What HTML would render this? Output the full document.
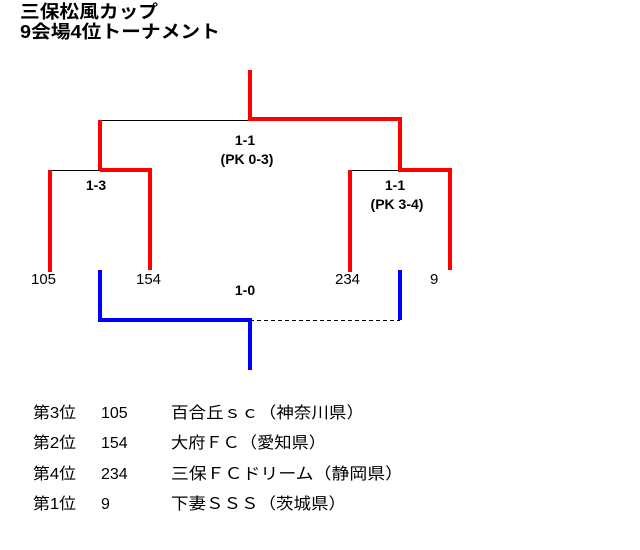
<!DOCTYPE html>
<html><head><meta charset="utf-8"><style>
html,body{margin:0;padding:0;background:#fff;width:640px;height:550px;overflow:hidden}
svg{display:block}
text{font-family:"Liberation Sans","Noto Sans CJK JP",sans-serif;fill:#000}
.t{font-size:18px;font-weight:bold}
.s{font-size:14px;font-weight:bold}
.n{font-size:15px}
.l{font-size:16px}
</style></head><body>
<svg width="640" height="550" viewBox="0 0 640 550">
<text class="t" x="20" y="18" textLength="138" lengthAdjust="spacingAndGlyphs">三保松風カップ</text>
<text class="t" x="20" y="38" textLength="200" lengthAdjust="spacingAndGlyphs">9会場4位トーナメント</text>
<g stroke="#000" stroke-width="1" fill="none" shape-rendering="crispEdges">
<line x1="100" y1="120.5" x2="250" y2="120.5"/>
<line x1="50" y1="170.5" x2="100" y2="170.5"/>
<line x1="350" y1="170.5" x2="400" y2="170.5"/>
<line x1="250" y1="320.5" x2="400" y2="320.5" stroke-dasharray="4,3"/>
</g>
<g stroke="#f00" stroke-width="4" fill="none" shape-rendering="crispEdges">
<polyline points="250,70 250,119 400,119 400,170 450,170 450,270"/>
<polyline points="100,170 100,120"/>
<polyline points="100,170 150,170 150,270"/>
<line x1="50" y1="170" x2="50" y2="272"/>
<line x1="350" y1="170" x2="350" y2="272"/>
</g>
<g stroke="#00f" stroke-width="4" fill="none" shape-rendering="crispEdges">
<polyline points="100,270 100,320 250,320 250,370"/>
<line x1="400" y1="270" x2="400" y2="320"/>
</g>
<text class="s" x="245" y="145" text-anchor="middle">1-1</text>
<text class="s" x="247" y="164" text-anchor="middle">(PK 0-3)</text>
<text class="s" x="96" y="190" text-anchor="middle">1-3</text>
<text class="s" x="395" y="190" text-anchor="middle">1-1</text>
<text class="s" x="397" y="209" text-anchor="middle">(PK 3-4)</text>
<text class="s" x="245" y="295" text-anchor="middle">1-0</text>
<text class="n" x="31" y="284">105</text>
<text class="n" x="136" y="284">154</text>
<text class="n" x="335" y="284">234</text>
<text class="n" x="430" y="284">9</text>
<text class="l" x="33" y="418" textLength="43" lengthAdjust="spacingAndGlyphs">第3位</text><text class="l" x="101" y="418">105</text><text class="l" x="171" y="418" textLength="193" lengthAdjust="spacingAndGlyphs">百合丘ｓｃ（神奈川県）</text>
<text class="l" x="33" y="448" textLength="43" lengthAdjust="spacingAndGlyphs">第2位</text><text class="l" x="101" y="448">154</text><text class="l" x="171" y="448" textLength="155" lengthAdjust="spacingAndGlyphs">大府ＦＣ（愛知県）</text>
<text class="l" x="33" y="479" textLength="43" lengthAdjust="spacingAndGlyphs">第4位</text><text class="l" x="101" y="479">234</text><text class="l" x="171" y="479" textLength="232" lengthAdjust="spacingAndGlyphs">三保ＦＣドリーム（静岡県）</text>
<text class="l" x="33" y="509" textLength="43" lengthAdjust="spacingAndGlyphs">第1位</text><text class="l" x="101" y="509">9</text><text class="l" x="171" y="509" textLength="175" lengthAdjust="spacingAndGlyphs">下妻ＳＳＳ（茨城県）</text>
</svg>
</body></html>
